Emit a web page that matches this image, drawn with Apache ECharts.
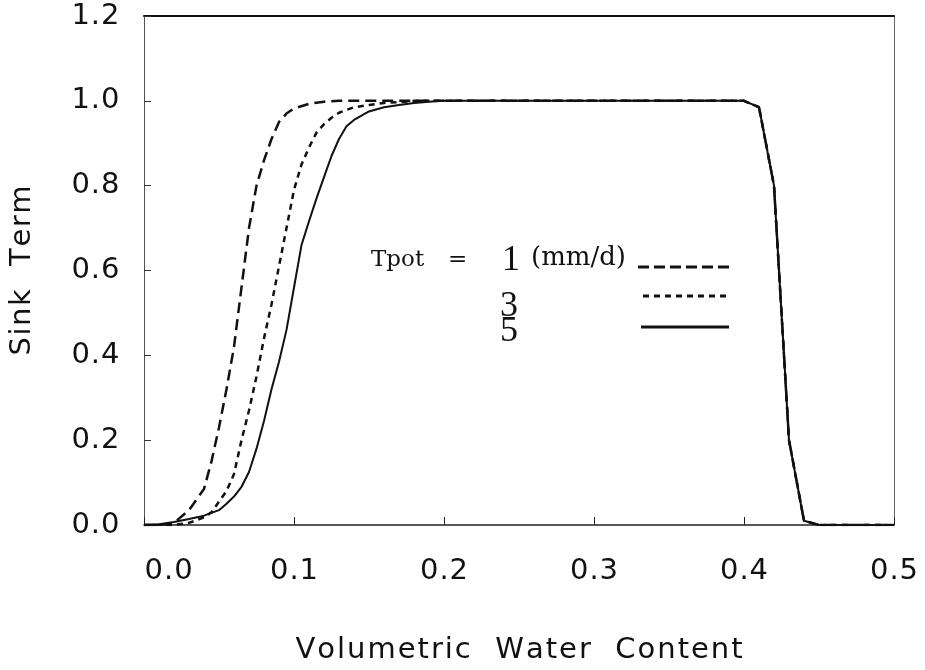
<!DOCTYPE html>
<html>
<head>
<meta charset="utf-8">
<title>Sink Term vs Volumetric Water Content</title>
<script src="https://cdn.jsdelivr.net/npm/echarts@6/dist/echarts.min.js"></script>
<style>
  html, body { margin: 0; padding: 0; background: #fff; }
  #chart { width: 925px; height: 670px; }
</style>
</head>
<body>
<div id="chart"></div>
<script>
// Volumetric water content (x) and sink term (y) for three potential transpiration rates
const tpot1X = [0, 0.01, 0.02, 0.03, 0.04, 0.045, 0.05, 0.055, 0.06, 0.065, 0.07, 0.075, 0.08, 0.085, 0.09, 0.095, 0.10, 0.11, 0.12, 0.13, 0.20, 0.30, 0.40, 0.41, 0.42, 0.43, 0.44, 0.45, 0.50];
const tpot1Y = [0, 0.0, 0.005, 0.035, 0.085, 0.15, 0.23, 0.32, 0.42, 0.56, 0.70, 0.80, 0.86, 0.91, 0.95, 0.97, 0.982, 0.993, 0.998, 1.0, 1.0, 1.0, 1.0, 0.985, 0.80, 0.20, 0.01, 0, 0];

const tpot3X = [0, 0.02, 0.03, 0.04, 0.045, 0.05, 0.055, 0.06, 0.065, 0.07, 0.075, 0.08, 0.085, 0.09, 0.095, 0.10, 0.105, 0.11, 0.115, 0.12, 0.125, 0.13, 0.14, 0.15, 0.16, 0.17, 0.18, 0.30, 0.40, 0.41, 0.42, 0.43, 0.44, 0.45, 0.50];
const tpot3Y = [0, 0.0, 0.005, 0.018, 0.03, 0.055, 0.08, 0.12, 0.20, 0.27, 0.35, 0.44, 0.52, 0.61, 0.70, 0.79, 0.85, 0.89, 0.925, 0.945, 0.96, 0.972, 0.985, 0.99, 0.995, 0.997, 1.0, 1.0, 1.0, 0.985, 0.80, 0.20, 0.01, 0, 0];

const tpot5X = [0, 0.01, 0.02, 0.03, 0.04, 0.05, 0.055, 0.06, 0.065, 0.07, 0.075, 0.08, 0.085, 0.09, 0.095, 0.10, 0.105, 0.11, 0.115, 0.12, 0.125, 0.13, 0.135, 0.14, 0.15, 0.16, 0.17, 0.18, 0.19, 0.20, 0.30, 0.40, 0.41, 0.42, 0.43, 0.44, 0.45, 0.50];
const tpot5Y = [0, 0.002, 0.007, 0.014, 0.022, 0.035, 0.05, 0.067, 0.09, 0.125, 0.18, 0.245, 0.32, 0.385, 0.46, 0.56, 0.66, 0.716, 0.77, 0.82, 0.87, 0.91, 0.94, 0.955, 0.975, 0.985, 0.99, 0.995, 0.998, 1.0, 1.0, 1.0, 0.985, 0.80, 0.20, 0.01, 0, 0];

const xTicks = [0, 0.1, 0.2, 0.3, 0.4, 0.5];
const yTicks = [0, 0.2, 0.4, 0.6, 0.8, 1.0, 1.2];

const legendRates = ['1', '3', '5'];

const pairs = (xs, ys) => xs.map((x, i) => [x, ys[i]]);

const chart = echarts.init(document.getElementById('chart'), null, { renderer: 'canvas' });

const sans = 'DejaVu Sans, Verdana, sans-serif';
const serif = 'Liberation Serif, Times New Roman, serif';
const wideSerif = 'DejaVu Serif, Georgia, serif';

// Spread characters apart a little, like the plotter lettering of the figure
const spaced = str => str.split('').map(c => c === ' ' ? '{s| }' : '{c|' + c + '}').join('');
const richLetters = (size, pad) => ({
  c: { fontFamily: sans, fontSize: size, color: '#111', padding: [0, pad] },
  s: { fontFamily: sans, fontSize: size, color: '#111', padding: [0, pad] }
});

const lineSeries = (name, data, type, width) => ({
  name: name,
  type: 'line',
  data: data,
  showSymbol: false,
  smooth: false,
  silent: true,
  lineStyle: { color: '#111', width: width, type: type }
});

const legendText = (str, left, top, font) => ({
  type: 'text', left: left, top: top,
  style: { text: str, font: font, fill: '#111' }
});

chart.setOption({
  animation: false,
  backgroundColor: '#fff',
  grid: { left: 142, right: 31, top: 16, bottom: 140, containLabel: false },
  xAxis: [{
    type: 'value',
    min: xTicks[0],
    max: xTicks[xTicks.length - 1],
    interval: 0.1,
    name: spaced('Volumetric  Water  Content'),
    nameLocation: 'middle',
    nameGap: 111,
    nameTextStyle: { rich: richLetters(29, 1) },
    axisLine: { onZero: false, lineStyle: { color: '#222', width: 1.5 } },
    axisTick: { inside: true, length: 8, lineStyle: { color: '#222', width: 1 } },
    axisLabel: {
      margin: 32,
      formatter: v => spaced(v.toFixed(1)),
      rich: richLetters(29, 0.5),
      alignMinLabel: 'left'
    },
    splitLine: { show: false }
  }, {
    type: 'value',
    position: 'top',
    min: xTicks[0],
    max: xTicks[xTicks.length - 1],
    axisLine: { show: true, onZero: false, lineStyle: { color: '#111', width: 2 } },
    axisTick: { show: false },
    axisLabel: { show: false },
    splitLine: { show: false }
  }],
  yAxis: [{
    type: 'value',
    min: yTicks[0],
    max: yTicks[yTicks.length - 1],
    interval: 0.2,
    name: spaced('Sink  Term'),
    nameLocation: 'middle',
    nameGap: 107,
    nameRotate: 90,
    nameTextStyle: { rich: richLetters(29, 0.8) },
    axisLine: { onZero: false, lineStyle: { color: '#555', width: 1 } },
    axisTick: { inside: true, length: 7, lineStyle: { color: '#333', width: 1 } },
    axisLabel: {
      margin: 24,
      formatter: v => spaced(v.toFixed(1)),
      rich: richLetters(29, 0.5)
    },
    splitLine: { show: false }
  }, {
    type: 'value',
    position: 'right',
    min: yTicks[0],
    max: yTicks[yTicks.length - 1],
    axisLine: { show: true, onZero: false, lineStyle: { color: '#666', width: 1 } },
    axisTick: { show: false },
    axisLabel: { show: false },
    splitLine: { show: false }
  }],
  series: [
    lineSeries('Tpot = 1', pairs(tpot1X, tpot1Y), [11, 6], 2.5),
    lineSeries('Tpot = 3', pairs(tpot3X, tpot3Y), [6, 5], 2.5),
    lineSeries('Tpot = 5', pairs(tpot5X, tpot5Y), 'solid', 2)
  ],
  graphic: [
    legendText('Tpot', 371, 249, '23px ' + wideSerif),
    legendText('=', 448, 249, '23px ' + wideSerif),
    legendText(legendRates[0], 502, 243, '36px ' + serif),
    legendText('(mm/d)', 531, 245, '26px ' + wideSerif),
    legendText(legendRates[1], 500, 289, '36px ' + serif),
    legendText(legendRates[2], 500, 314, '36px ' + serif),
    { type: 'line', shape: { x1: 638, y1: 267, x2: 729, y2: 267 }, style: { stroke: '#111', lineWidth: 3, lineDash: [11, 5] } },
    { type: 'line', shape: { x1: 643, y1: 296, x2: 728, y2: 296 }, style: { stroke: '#111', lineWidth: 3, lineDash: [6, 5] } },
    { type: 'line', shape: { x1: 641, y1: 327, x2: 729, y2: 327 }, style: { stroke: '#111', lineWidth: 3 } }
  ]
});
</script>
</body>
</html>
